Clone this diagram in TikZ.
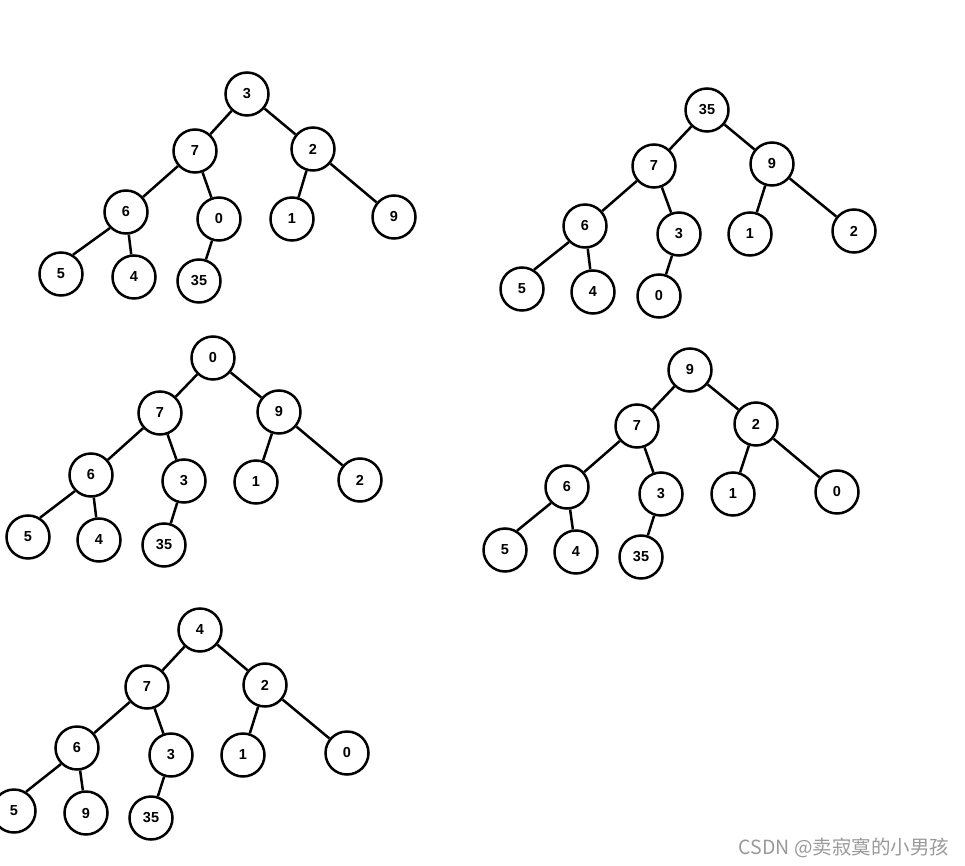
\documentclass[tikz,border=0pt]{standalone}
\usepackage{fontspec}
\setsansfont{Liberation Sans}
\newfontfamily\cjk{Noto Sans CJK SC}
\usepackage{tikz}

\begin{document}
\begin{tikzpicture}[x=1pt,y=-1pt,
    vertex/.style={circle,draw,line width=2.5pt,minimum size=43pt,inner sep=0pt,
      font=\sffamily\bfseries\fontsize{14.5}{14.5}\selectfont},
    edge/.style={line width=2.5pt}]
    \useasboundingbox (0,0) rectangle (965,866);
    % first heap
    \node[vertex] (a1) at (247,94) {3};
    \node[vertex] (a2) at (195,151) {7};
    \node[vertex] (a3) at (313,149) {2};
    \node[vertex] (a4) at (126,212) {6};
    \node[vertex] (a5) at (219,219) {0};
    \node[vertex] (a6) at (292,219) {1};
    \node[vertex] (a7) at (394,217) {9};
    \node[vertex] (a8) at (61,274) {5};
    \node[vertex] (a9) at (134,277) {4};
    \node[vertex] (a10) at (199,281) {35};
    \draw[edge] (a1) -- (a2) (a1) -- (a3) (a2) -- (a4) (a2) -- (a5) (a3) -- (a6)
      (a3) -- (a7) (a4.225) -- (a8.58) (a4) -- (a9) (a5) -- (a10);
    % second heap
    \node[vertex] (b1) at (707,110) {35};
    \node[vertex] (b2) at (654,166) {7};
    \node[vertex] (b3) at (772,164) {9};
    \node[vertex] (b4) at (585,226) {6};
    \node[vertex] (b5) at (679,234) {3};
    \node[vertex] (b6) at (750,234) {1};
    \node[vertex] (b7) at (854,231) {2};
    \node[vertex] (b8) at (522,289) {5};
    \node[vertex] (b9) at (593,292) {4};
    \node[vertex] (b10) at (659,296) {0};
    \draw[edge] (b1) -- (b2) (b1) -- (b3) (b2) -- (b4) (b2) -- (b5) (b3) -- (b6)
      (b3) -- (b7) (b4.225) -- (b8.58) (b4) -- (b9) (b5) -- (b10);
    % third heap
    \node[vertex] (c1) at (213,358) {0};
    \node[vertex] (c2) at (160,413) {7};
    \node[vertex] (c3) at (279,412) {9};
    \node[vertex] (c4) at (91,475) {6};
    \node[vertex] (c5) at (184,481) {3};
    \node[vertex] (c6) at (256,482) {1};
    \node[vertex] (c7) at (360,480) {2};
    \node[vertex] (c8) at (28,537) {5};
    \node[vertex] (c9) at (99,540) {4};
    \node[vertex] (c10) at (164,545) {35};
    \draw[edge] (c1) -- (c2) (c1) -- (c3) (c2) -- (c4) (c2) -- (c5) (c3) -- (c6)
      (c3) -- (c7) (c4.225) -- (c8.58) (c4) -- (c9) (c5) -- (c10);
    % fourth heap
    \node[vertex] (d1) at (690,370) {9};
    \node[vertex] (d2) at (637,426) {7};
    \node[vertex] (d3) at (756,424) {2};
    \node[vertex] (d4) at (567,487) {6};
    \node[vertex] (d5) at (661,494) {3};
    \node[vertex] (d6) at (733,494) {1};
    \node[vertex] (d7) at (837,492) {0};
    \node[vertex] (d8) at (505,550) {5};
    \node[vertex] (d9) at (576,552) {4};
    \node[vertex] (d10) at (641,557) {35};
    \draw[edge] (d1) -- (d2) (d1) -- (d3) (d2) -- (d4) (d2) -- (d5) (d3) -- (d6)
      (d3) -- (d7) (d4.225) -- (d8.58) (d4) -- (d9) (d5) -- (d10);
    % fifth heap
    \node[vertex] (e1) at (200,630) {4};
    \node[vertex] (e2) at (147,687) {7};
    \node[vertex] (e3) at (265,685) {2};
    \node[vertex] (e4) at (77,748) {6};
    \node[vertex] (e5) at (171,755) {3};
    \node[vertex] (e6) at (243,755) {1};
    \node[vertex] (e7) at (347,753) {0};
    \node[vertex] (e8) at (14,811) {5};
    \node[vertex] (e9) at (86,813) {9};
    \node[vertex] (e10) at (151,818) {35};
    \draw[edge] (e1) -- (e2) (e1) -- (e3) (e2) -- (e4) (e2) -- (e5) (e3) -- (e6)
      (e3) -- (e7) (e4.225) -- (e8.58) (e4) -- (e9) (e5) -- (e10);
    \node[text=black!40,font=\cjk\fontsize{19.5}{19.5}\selectfont] (mark) at (844,848) {CSDN @卖寂寞的小男孩};
  \end{tikzpicture}
\end{document}
